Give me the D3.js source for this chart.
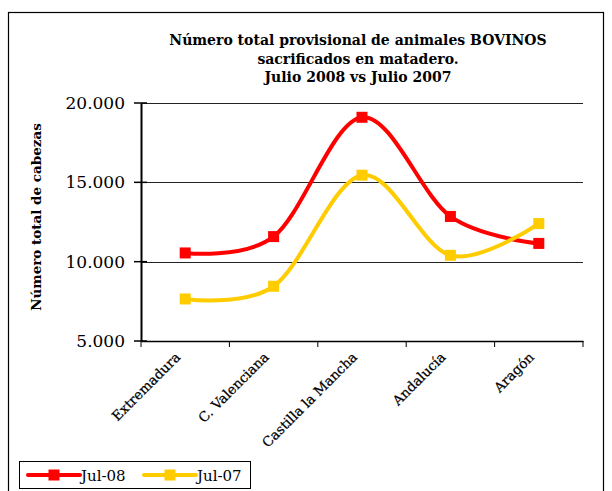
<!DOCTYPE html>
<html>
<head>
<meta charset="utf-8">
<script src="https://cdn.jsdelivr.net/npm/d3@7"></script>
<style>
  body { margin: 0; background: #fff; }
  text { font-family: "DejaVu Serif", serif; fill: #000; }
</style>
</head>
<body>
<div id="graf"></div>
<script>
const regiones = ['Extremadura', 'C. Valenciana', 'Castilla la Mancha', 'Andalucía', 'Aragón']
const jul08 = [10550, 11580, 19100, 12850, 11150]
const jul07 = [7650, 8450, 15450, 10400, 12400]
const yTicks = [5000, 10000, 15000, 20000]
const titulo = ['Número total provisional de animales BOVINOS', 'sacrificados en matadero.', 'Julio 2008 vs Julio 2007']
const series = [
  { nombre: 'Jul-08', valores: jul08, color: '#ff0000' },
  { nombre: 'Jul-07', valores: jul07, color: '#ffcc00' },
]

const anchoTotal = 612
const altoTotal = 491

const svg = d3.select('#graf')
  .append('svg')
  .attr('width', anchoTotal)
  .attr('height', altoTotal)

// marco exterior
svg.append('rect')
  .attr('x', 8.5)
  .attr('y', 12.5)
  .attr('width', 595)
  .attr('height', 490)
  .attr('fill', 'none')
  .attr('stroke', '#000')
  .attr('stroke-width', 1.2)

const margin = { top: 103, left: 141, right: 29, bottom: 150 }
const ancho = anchoTotal - margin.left - margin.right
const alto = altoTotal - margin.top - margin.bottom

const g = svg.append('g')
  .attr('transform', `translate(${margin.left}, ${margin.top})`)

const x = d3.scaleBand().domain(regiones).range([0, ancho])
const y = d3.scaleLinear().domain([5000, 20000]).range([alto, 0])

// rejilla
g.selectAll('.grid')
  .data(yTicks.filter((d) => d > 5000))
  .enter()
  .append('line')
  .attr('x1', 0)
  .attr('x2', ancho)
  .attr('y1', (d) => Math.round(y(d)) + 0.5)
  .attr('y2', (d) => Math.round(y(d)) + 0.5)
  .attr('stroke', '#222')
  .attr('stroke-width', 1)

// eje x
const ejeX = g.append('g')
  .attr('transform', `translate(0, ${alto})`)
  .call(d3.axisBottom(x).tickSize(0).tickFormat(''))
ejeX.select('.domain').attr('stroke', '#000').attr('stroke-width', 1.5)

g.selectAll('.tickx')
  .data(d3.range(regiones.length + 1))
  .enter()
  .append('line')
  .attr('x1', (i) => i * x.bandwidth())
  .attr('x2', (i) => i * x.bandwidth())
  .attr('y1', alto)
  .attr('y2', alto + 6)
  .attr('stroke', '#000')
  .attr('stroke-width', 1)

g.selectAll('.etqx')
  .data(regiones)
  .enter()
  .append('text')
  .attr('transform', (d) => `translate(${x(d) + x.bandwidth() / 2 - 4}, ${alto + 17}) rotate(-45)`)
  .attr('text-anchor', 'end')
  .attr('font-size', 13.5)
  .attr('stroke', '#000')
  .attr('stroke-width', 0.25)
  .text((d) => d)

// eje y
const ejeY = g.append('g')
  .call(d3.axisLeft(y).tickValues(yTicks).tickSize(0).tickFormat(''))
ejeY.select('.domain').attr('stroke', '#000').attr('stroke-width', 2)

g.selectAll('.ticky')
  .data(yTicks)
  .enter()
  .append('line')
  .attr('x1', -7)
  .attr('x2', 6)
  .attr('y1', (d) => y(d))
  .attr('y2', (d) => y(d))
  .attr('stroke', '#000')
  .attr('stroke-width', 1.5)

g.selectAll('.etqy')
  .data(yTicks)
  .enter()
  .append('text')
  .attr('x', -16)
  .attr('y', (d) => y(d) + 6)
  .attr('text-anchor', 'end')
  .attr('font-size', 17)
  .text((d) => d3.format(',')(d).replace(',', '.'))

svg.append('text')
  .attr('transform', 'translate(41, 217) rotate(-90)')
  .attr('text-anchor', 'middle')
  .attr('font-size', 13.5)
  .attr('font-weight', 'bold')
  .text('Número total de cabezas')

// titulo
svg.selectAll('.titulo')
  .data(titulo)
  .enter()
  .append('text')
  .attr('x', 358)
  .attr('y', (d, i) => 45 + i * 18.5)
  .attr('text-anchor', 'middle')
  .attr('font-size', 14)
  .attr('font-weight', 'bold')
  .text((d) => d)

// lineas
const linea = d3.line()
  .x((d, i) => x(regiones[i]) + x.bandwidth() / 2)
  .y((d) => y(d))
  .curve(d3.curveCatmullRom.alpha(0))

series.forEach((s) => {
  g.append('path')
    .attr('d', linea(s.valores))
    .attr('fill', 'none')
    .attr('stroke', s.color)
    .attr('stroke-width', 4)

  g.selectAll(null)
    .data(s.valores)
    .enter()
    .append('rect')
    .attr('x', (d, i) => x(regiones[i]) + x.bandwidth() / 2 - 5.5)
    .attr('y', (d) => y(d) - 5.5)
    .attr('width', 11)
    .attr('height', 11)
    .attr('fill', s.color)
})

// leyenda
const ley = svg.append('g').attr('transform', 'translate(19, 461)')
ley.append('rect')
  .attr('x', 0.5)
  .attr('y', 0.5)
  .attr('width', 231)
  .attr('height', 27)
  .attr('fill', '#fff')
  .attr('stroke', '#000')
  .attr('stroke-width', 1)

series.forEach((s, i) => {
  const gx = 9 + i * 116
  ley.append('line')
    .attr('x1', gx)
    .attr('x2', gx + 52)
    .attr('y1', 14)
    .attr('y2', 14)
    .attr('stroke', s.color)
    .attr('stroke-width', 4)
    .attr('stroke-linecap', 'round')
  ley.append('rect')
    .attr('x', gx + 26 - 5.5)
    .attr('y', 14 - 5.5)
    .attr('width', 11)
    .attr('height', 11)
    .attr('fill', s.color)
  ley.append('text')
    .attr('x', gx + 53)
    .attr('y', 19.5)
    .attr('font-size', 15)
    .text(s.nombre)
})
</script>
</body>
</html>
